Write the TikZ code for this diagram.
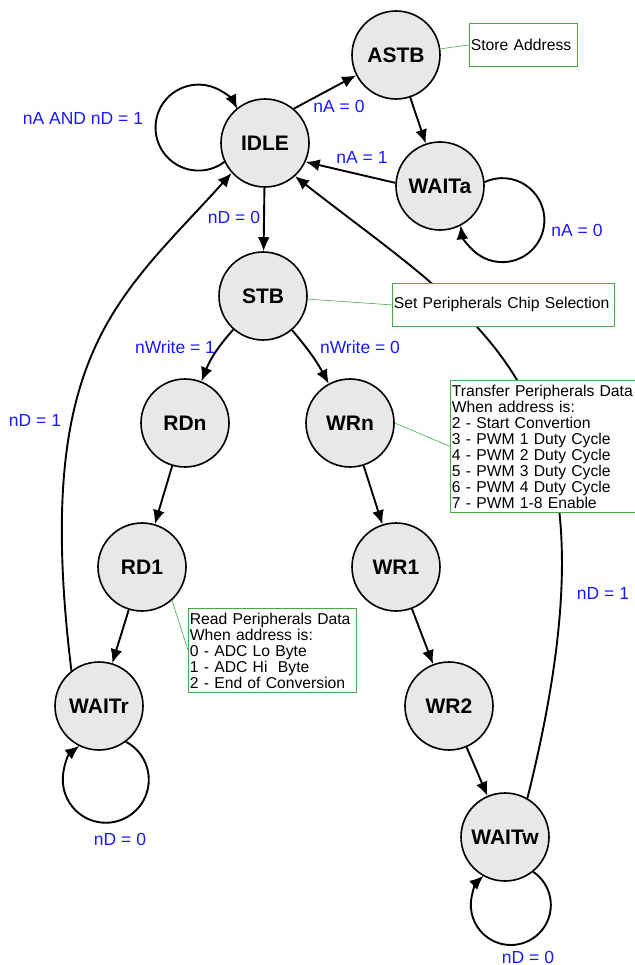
\documentclass[tikz,border=0pt]{standalone}
\usepackage{fontspec}
\setmainfont{Liberation Sans}
\usetikzlibrary{arrows.meta}
\definecolor{notegreen}{RGB}{70,170,70}
\definecolor{condblue}{RGB}{25,25,255}
\definecolor{stategray}{RGB}{232,232,232}
\begin{document}
\begin{tikzpicture}[x=1pt,y=1pt,
      state/.style={circle,draw,line width=1.6pt,fill=stategray,
        minimum size=88pt,inner sep=0pt,
        font=\fontsize{21}{21}\selectfont\bfseries},
      trans/.style={line width=1.9pt,-{Latex[length=14pt,width=12pt]}},
      cond/.style={text=condblue,inner sep=0pt,
        font=\fontsize{17.5}{17.5}\selectfont},
      note/.style={draw=notegreen,fill=white,line width=0.8pt,anchor=north west,
        align=left,inner xsep=1.5pt,inner ysep=1pt,
        font=\fontsize{15.7}{16}\selectfont},
      noteline/.style={draw=notegreen,line width=0.6pt}]
      \useasboundingbox (0,0) rectangle (634,-965);
      \draw (265,-143) node[state] (IDLE) {IDLE};
      \draw (396,-55) node[state] (ASTB) {ASTB};
      \draw (440,-186) node[state] (WAITa) {WAITa};
      \draw (263,-296) node[state] (STB) {STB};
      \draw (185,-423) node[state] (RDn) {RDn};
      \draw (350,-423) node[state] (WRn) {WRn};
      \draw (142,-567) node[state] (RD1) {RD1};
      \draw (396,-567) node[state] (WR1) {WR1};
      \draw (99,-706) node[state] (WAITr) {WAITr};
      \draw (449,-706) node[state] (WR2) {WR2};
      \draw (505,-837) node[state] (WAITw) {WAITw};
      \draw[trans] (IDLE.50) -- (ASTB.207);
      \draw[trans] (ASTB) -- (WAITa);
      \draw[trans] (WAITa.176) -- (IDLE.-25);
      \draw[trans] (IDLE) -- (STB);
      \draw[trans] (STB) to[bend right=10] (RDn);
      \draw[trans] (STB) to[bend left=6] (WRn);
      \draw[trans] (RDn) -- (RD1);
      \draw[trans] (WRn) -- (WR1);
      \draw[trans] (RD1) -- (WAITr);
      \draw[trans] (WR1) -- (WR2);
      \draw[trans] (WR2) -- (WAITw);
      \draw[trans] (WAITr.128) .. controls +(97:320) and +(228:170) .. (IDLE.222);
      \draw[trans] (WAITw.60) .. controls +(76:420) and +(-38:250) .. (IDLE.312);
      \draw[trans] (IDLE.205) arc[start angle=-53,end angle=-334,radius=43];
      \draw[trans] (WAITa.5) arc[start angle=115,end angle=-173,radius=42];
      \draw[trans] (WAITr.307) arc[start angle=62,end angle=-232,radius=43];
      \draw[trans] (WAITw.309) arc[start angle=56,end angle=-227,radius=40];
      \draw (469,-23) node[note,text width=105pt,minimum height=43pt] (nStore) {Store Address};
      \draw (392,-283) node[note,text width=219pt,minimum height=43pt] (nChip) {Set Peripherals Chip Selection};
      \draw (450,-380) node[note,text width=188pt,minimum height=132pt] (nWrite) {Transfer Peripherals Data\\When address is:\\2 - Start Convertion\\3 - PWM 1 Duty Cycle\\4 - PWM 2 Duty Cycle\\5 - PWM 3 Duty Cycle\\6 - PWM 4 Duty Cycle\\7 - PWM 1-8 Enable};
      \draw (188,-608) node[note,text width=165pt,minimum height=84pt] (nRead) {Read Peripherals Data\\When address is:\\0 - ADC Lo Byte\\1 - ADC Hi\ \ Byte\\2 - End of Conversion};
      \draw[noteline] (ASTB) -- (nStore.west);
      \draw[noteline] (STB) -- (nChip.west);
      \draw[noteline] (WRn.east) -- (nWrite.west);
      \draw[noteline] (RD1.-48) -- (nRead.west);
      \draw (83,-118) node[cond] (cLoopI) {nA AND nD = 1};
      \draw (339,-106) node[cond] (cAddr0) {nA = 0};
      \draw (362,-157) node[cond] (cAddr1) {nA = 1};
      \draw (577,-230) node[cond] (cLoopA) {nA = 0};
      \draw (234,-217) node[cond] (cData0) {nD = 0};
      \draw (175,-347) node[cond] (cRead) {nWrite = 1};
      \draw (360,-347) node[cond] (cWrite) {nWrite = 0};
      \draw (35,-420) node[cond] (cBackR) {nD = 1};
      \draw (603,-593) node[cond] (cBackW) {nD = 1};
      \draw (120,-839) node[cond] (cLoopR) {nD = 0};
      \draw (528,-957) node[cond] (cLoopW) {nD = 0};
\end{tikzpicture}
\end{document}
